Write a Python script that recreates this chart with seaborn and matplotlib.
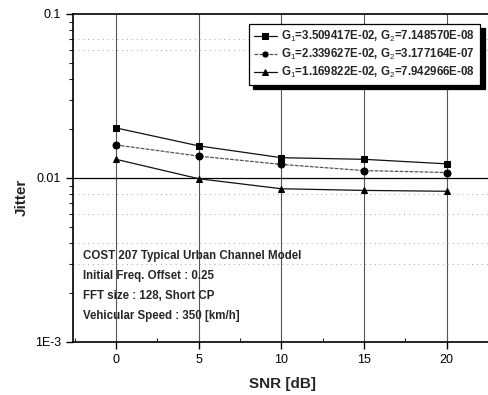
import matplotlib
matplotlib.use("Agg")
import matplotlib.pyplot as plt
import matplotlib.ticker as mticker
import seaborn as sns
import pandas as pd

snr_db = [0, 5, 10, 15, 20]
jitter_a = [0.0202, 0.0157, 0.0133, 0.0130, 0.0122]
jitter_b = [0.0159, 0.0136, 0.0121, 0.0111, 0.0108]
jitter_c = [0.0130, 0.0099, 0.0086, 0.0084, 0.0083]
series_labels = [
    r"G$_1$=3.509417E-02, G$_2$=7.148570E-08",
    r"G$_1$=2.339627E-02, G$_2$=3.177164E-07",
    r"G$_1$=1.169822E-02, G$_2$=7.942966E-08",
]
notes = [
    "COST 207 Typical Urban Channel Model",
    "Initial Freq. Offset : 0.25",
    "FFT size : 128, Short CP",
    "Vehicular Speed : 350 [km/h]",
]
dotted_levels = [0.07, 0.06, 0.008, 0.006, 0.004, 0.003]

sns.set_style("white")
plt.rcParams["font.family"] = ["Liberation Sans", "DejaVu Sans"]
plt.rcParams["mathtext.fontset"] = "custom"
plt.rcParams["mathtext.rm"] = "Liberation Sans"
plt.rcParams["mathtext.it"] = "Liberation Sans"
plt.rcParams["mathtext.bf"] = "Liberation Sans:bold"

fig = plt.figure(figsize=(4.89, 3.95), dpi=100)
ax = fig.add_axes([73 / 489, 53 / 395, 420 / 489, 328 / 395])

styles = [
    dict(marker="s", linestyle="-", color="#111111"),
    dict(marker="o", linestyle=(0, (3, 1)), color="#555555"),
    dict(marker="^", linestyle="-", color="#111111"),
]
for vals, lab, st in zip([jitter_a, jitter_b, jitter_c], series_labels, styles):
    df = pd.DataFrame({"snr": snr_db, "jitter": vals})
    sns.lineplot(data=df, x="snr", y="jitter", ax=ax, label=lab,
                 marker=st["marker"], linestyle=st["linestyle"],
                 color=st["color"], markersize=5, linewidth=0.9,
                 markeredgecolor="black", markerfacecolor="black", zorder=3)

ax.set_yscale("log")
ax.set_ylim(1e-3, 0.1)
ax.set_xlim(-2.6, 22.8)
ax.set_xticks(snr_db)
ax.xaxis.set_minor_locator(mticker.MultipleLocator(2.5))
ax.yaxis.set_major_locator(mticker.FixedLocator([1e-3, 1e-2, 1e-1]))
ax.yaxis.set_major_formatter(mticker.FixedFormatter(["1E-3", "0.01", "0.1"]))
ax.yaxis.set_minor_locator(mticker.LogLocator(base=10, subs=range(2, 10)))
ax.yaxis.set_minor_formatter(mticker.NullFormatter())

ax.tick_params(axis="both", which="major", labelsize=9, direction="out",
               length=5, width=1, colors="black", left=True, bottom=True)
ax.tick_params(axis="y", which="minor", direction="out", length=3, width=0.8, left=True)
ax.tick_params(axis="x", which="minor", direction="in", length=3, width=0.8, bottom=True)

# grid: solid verticals at the SNR ticks, faint dotted horizontals, solid decade line
for xv in snr_db:
    ax.axvline(xv, color="#555555", linewidth=0.8, zorder=1)
for yv in dotted_levels:
    ax.axhline(yv, color="#a8a8a8", linewidth=0.7, linestyle=(0, (1, 4)), zorder=1)
ax.axhline(0.01, color="black", linewidth=0.9, zorder=1)

for side in ["left", "bottom", "top"]:
    ax.spines[side].set_color("black")
    ax.spines[side].set_linewidth(1.2)
ax.spines["right"].set_visible(False)

ax.set_xlabel("SNR [dB]", fontsize=11, fontweight="bold", labelpad=8)
ax.set_ylabel("Jitter", fontsize=11, fontweight="bold")
ax.yaxis.set_label_coords(-0.105, 0.44)

leg = ax.legend(loc="upper right", bbox_to_anchor=(0.97, 0.97), fontsize=8.3,
                frameon=True, fancybox=False, handlelength=2.0, handletextpad=0.4,
                borderpad=0.45, labelspacing=0.25, borderaxespad=0, markerscale=0.75,
                shadow={"color": "black", "alpha": 1, "ox": 3, "oy": -3})
leg.get_frame().set_edgecolor("black")
leg.get_frame().set_linewidth(0.9)
leg.get_frame().set_facecolor("white")
for t in leg.get_texts():
    t.set_fontweight("bold")

for i, line in enumerate(notes):
    ax.text(0.025, 0.263 - i * 0.061, line, transform=ax.transAxes,
            fontsize=8.3, fontweight="bold", ha="left", va="center")

fig.savefig("out.png", dpi=100)
